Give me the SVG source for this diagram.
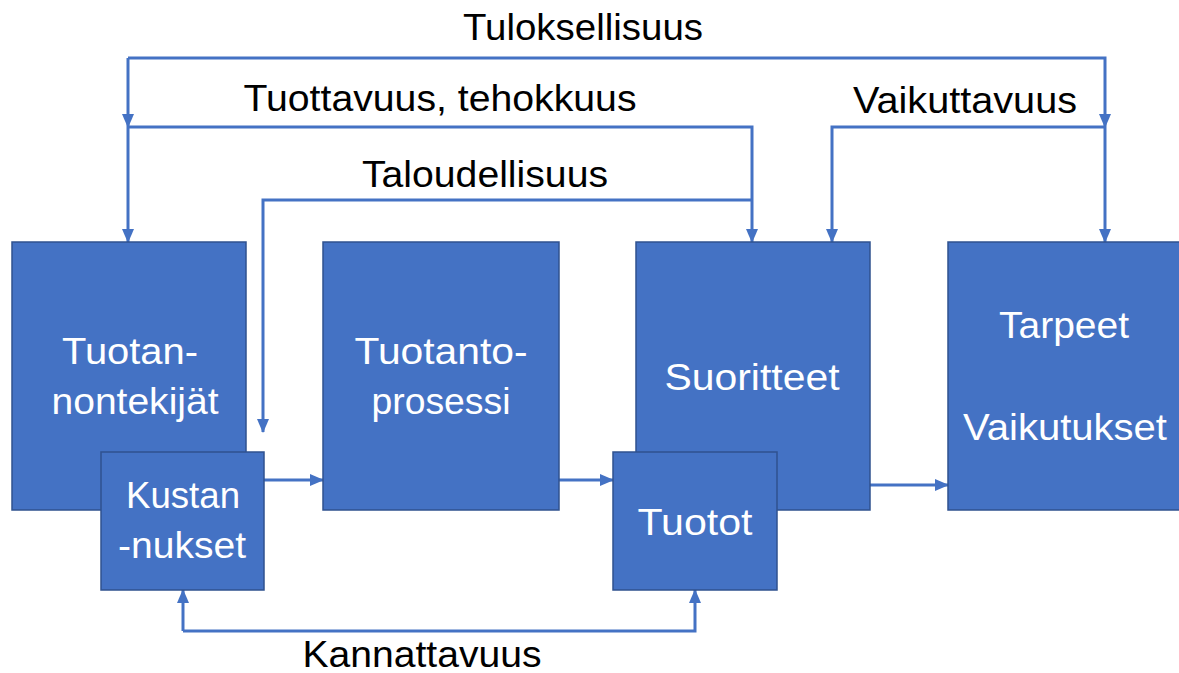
<svg xmlns="http://www.w3.org/2000/svg" width="1179" height="673" viewBox="0 0 1179 673">
  <style>
    .box { fill: #4472C4; stroke: #2F528F; stroke-width: 1.5; }
    .in { fill: #FFFFFF; font-family: "Liberation Sans", Arial, sans-serif; font-size: 36px; text-anchor: middle; }
    .lbl { fill: #000000; font-family: "Liberation Sans", Arial, sans-serif; font-size: 36px; text-anchor: middle; }
    .wire { fill: none; stroke: #4472C4; stroke-width: 3; marker-end: url(#head); }
  </style>
  <defs>
    <marker id="head" viewBox="0 0 14 12" markerUnits="userSpaceOnUse" markerWidth="14" markerHeight="12" refX="13" refY="6" orient="auto">
      <path d="M0,0 L14,6 L0,12 Z" fill="#4472C4"/>
    </marker>
  </defs>

  <!-- connectors -->
  <g id="connectors">
    <path class="wire" d="M128,58 V127"/>
    <path class="wire" d="M128,58 H1105 V127"/>
    <path class="wire" d="M128,127 V242"/>
    <path class="wire" d="M128,127 H752 V242"/>
    <path class="wire" d="M752,200 H263 V432"/>
    <path class="wire" d="M1105,127 H832 V242"/>
    <path class="wire" d="M1105,127 V242"/>
    <path class="wire" d="M264,480 H323"/>
    <path class="wire" d="M559,480 H613"/>
    <path class="wire" d="M870,485 H948"/>
    <path class="wire" d="M183,631 V590"/>
    <path class="wire" d="M183,631 H695 V590"/>
  </g>

  <!-- connector labels -->
  <g id="labels">
    <text class="lbl" x="583" y="40" textLength="240" lengthAdjust="spacingAndGlyphs">Tuloksellisuus</text>
    <text class="lbl" x="440" y="111" textLength="393" lengthAdjust="spacingAndGlyphs">Tuottavuus, tehokkuus</text>
    <text class="lbl" x="485" y="187" textLength="246" lengthAdjust="spacingAndGlyphs">Taloudellisuus</text>
    <text class="lbl" x="965" y="113" textLength="224" lengthAdjust="spacingAndGlyphs">Vaikuttavuus</text>
    <text class="lbl" x="422" y="667" font-size="34" textLength="239" lengthAdjust="spacingAndGlyphs">Kannattavuus</text>
  </g>

  <g id="tuotannontekijat">
    <rect class="box" x="12" y="242" width="234" height="268"/>
    <text class="in" x="130" y="364" textLength="136" lengthAdjust="spacingAndGlyphs">Tuotan-</text>
    <text class="in" x="135" y="414" textLength="167" lengthAdjust="spacingAndGlyphs">nontekijät</text>
  </g>

  <g id="kustannukset">
    <rect class="box" x="101" y="452" width="163" height="138"/>
    <text class="in" x="183" y="508" textLength="114" lengthAdjust="spacingAndGlyphs">Kustan</text>
    <text class="in" x="182" y="558" textLength="128" lengthAdjust="spacingAndGlyphs">-nukset</text>
  </g>

  <g id="tuotantoprosessi">
    <rect class="box" x="323" y="242" width="236" height="268"/>
    <text class="in" x="441" y="364" textLength="173" lengthAdjust="spacingAndGlyphs">Tuotanto-</text>
    <text class="in" x="441" y="414" textLength="139" lengthAdjust="spacingAndGlyphs">prosessi</text>
  </g>

  <g id="suoritteet">
    <rect class="box" x="636" y="242" width="234" height="268"/>
    <text class="in" x="752" y="390" textLength="175" lengthAdjust="spacingAndGlyphs">Suoritteet</text>
  </g>

  <g id="tuotot">
    <rect class="box" x="613" y="452" width="164" height="138"/>
    <text class="in" x="695" y="535" textLength="115" lengthAdjust="spacingAndGlyphs">Tuotot</text>
  </g>

  <g id="tarpeet-vaikutukset">
    <rect class="box" x="948" y="242" width="240" height="268"/>
    <text class="in" x="1064" y="338" textLength="130" lengthAdjust="spacingAndGlyphs">Tarpeet</text>
    <text class="in" x="1065" y="440" textLength="204" lengthAdjust="spacingAndGlyphs">Vaikutukset</text>
  </g>
</svg>
